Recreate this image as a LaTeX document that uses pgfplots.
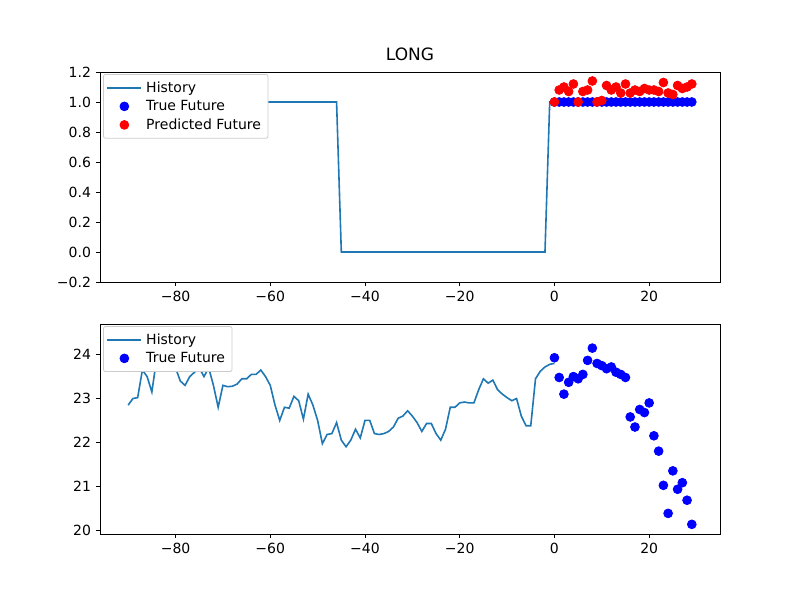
\documentclass[border=0pt]{standalone}
\usepackage{fontspec}
\setmainfont{DejaVu Sans}
\usepackage{pgfplots}
\pgfplotsset{compat=1.18}
\definecolor{tabblue}{HTML}{1F77B4}
\begin{document}
\fontsize{7}{8}\selectfont
\begin{tikzpicture}
\path (0pt,0pt) rectangle (400pt,300pt);
\pgfplotsset{every axis/.style={scale only axis, width=310pt, height=105pt, xmin=-95.95, xmax=34.95,
 xtick={-80,-60,-40,-20,0,20}, xticklabels={−80,−60,−40,−20,0,20}, xtick pos=bottom, ytick pos=left, tick align=outside, tick style={black,thin}, major tick length=2pt,
 /pgf/number format/assume math mode=true, ticklabel style={font=\fontsize{7}{8}\selectfont},
 legend style={at={(0.005,0.99)},anchor=north west, draw=black!20, rounded corners=1pt, font=\fontsize{7}{8}\selectfont, row sep=-1pt, inner sep=1.5pt},
 legend cell align=left, axis line style={black, thin}}}
\begin{axis}[at={(50pt,159pt)}, anchor=south west, ymin=-0.2, ymax=1.2, ytick={-0.2,0,0.2,0.4,0.6,0.8,1.0,1.2},
 yticklabels={−0.2,0.0,0.2,0.4,0.6,0.8,1.0,1.2},
 title={LONG}, title style={font=\fontsize{8.5}{9}\selectfont, yshift=-3pt}]
\addplot[tabblue, thick] coordinates {(-90,1) (-46,1) (-45,0) (-2,0) (-1,1) (0,1)};
\addlegendentry{History}
\addplot[only marks, mark=*, mark size=2.2pt, blue] coordinates {(0,1)(1,1)(2,1)(3,1)(4,1)(5,1)(6,1)(7,1)(8,1)(9,1)(10,1)(11,1)(12,1)(13,1)(14,1)(15,1)(16,1)(17,1)(18,1)(19,1)(20,1)(21,1)(22,1)(23,1)(24,1)(25,1)(26,1)(27,1)(28,1)(29,1)};
\addlegendentry{True Future}
\addplot[only marks, mark=*, mark size=2.2pt, red] coordinates {(0,1.00)(1,1.08)(2,1.10)(3,1.07)(4,1.12)(5,1.00)(6,1.07)(7,1.08)(8,1.14)(9,1.00)(10,1.01)(11,1.11)(12,1.08)(13,1.10)(14,1.06)(15,1.12)(16,1.06)(17,1.08)(18,1.07)(19,1.09)(20,1.08)(21,1.08)(22,1.07)(23,1.13)(24,1.06)(25,1.05)(26,1.11)(27,1.09)(28,1.10)(29,1.12)};
\addlegendentry{Predicted Future}
\end{axis}
\begin{axis}[at={(50pt,33pt)}, anchor=south west, ymin=19.91, ymax=24.70, ytick={20,21,22,23,24}]
\addplot[tabblue, thick] coordinates {(-90,22.85)(-89,23.0)(-88,23.02)(-87,23.65)(-86,23.5)(-85,23.15)(-84,23.9)(-83,24.45)(-82,24.0)(-81,23.8)(-80,23.7)(-79,23.4)(-78,23.3)(-77,23.5)(-76,23.6)(-75,23.7)(-74,23.5)(-73,23.7)(-72,23.3)(-71,22.8)(-70,23.3)(-69,23.27)(-68,23.28)(-67,23.33)(-66,23.45)(-65,23.45)(-64,23.55)(-63,23.55)(-62,23.65)(-61,23.5)(-60,23.3)(-59,22.85)(-58,22.5)(-57,22.8)(-56,22.78)(-55,23.05)(-54,22.95)(-53,22.53)(-52,23.1)(-51,22.85)(-50,22.5)(-49,21.97)(-48,22.18)(-47,22.2)(-46,22.45)(-45,22.05)(-44,21.9)(-43,22.05)(-42,22.3)(-41,22.1)(-40,22.5)(-39,22.5)(-38,22.2)(-37,22.18)(-36,22.2)(-35,22.25)(-34,22.35)(-33,22.55)(-32,22.6)(-31,22.72)(-30,22.6)(-29,22.45)(-28,22.25)(-27,22.43)(-26,22.43)(-25,22.2)(-24,22.05)(-23,22.3)(-22,22.8)(-21,22.8)(-20,22.9)(-19,22.92)(-18,22.9)(-17,22.9)(-16,23.2)(-15,23.45)(-14,23.35)(-13,23.42)(-12,23.2)(-11,23.1)(-10,23.02)(-9,22.95)(-8,23.0)(-7,22.6)(-6,22.38)(-5,22.38)(-4,23.45)(-3,23.62)(-2,23.72)(-1,23.78)(0,23.8)};
\addlegendentry{History}
\addplot[only marks, mark=*, mark size=2.2pt, blue] coordinates {(0,23.93)(1,23.48)(2,23.1)(3,23.37)(4,23.5)(5,23.45)(6,23.55)(7,23.87)(8,24.15)(9,23.8)(10,23.75)(11,23.68)(12,23.72)(13,23.6)(14,23.55)(15,23.48)(16,22.58)(17,22.35)(18,22.75)(19,22.68)(20,22.9)(21,22.15)(22,21.8)(23,21.02)(24,20.38)(25,21.35)(26,20.93)(27,21.08)(28,20.68)(29,20.13)};
\addlegendentry{True Future}
\end{axis}
\end{tikzpicture}
\end{document}
